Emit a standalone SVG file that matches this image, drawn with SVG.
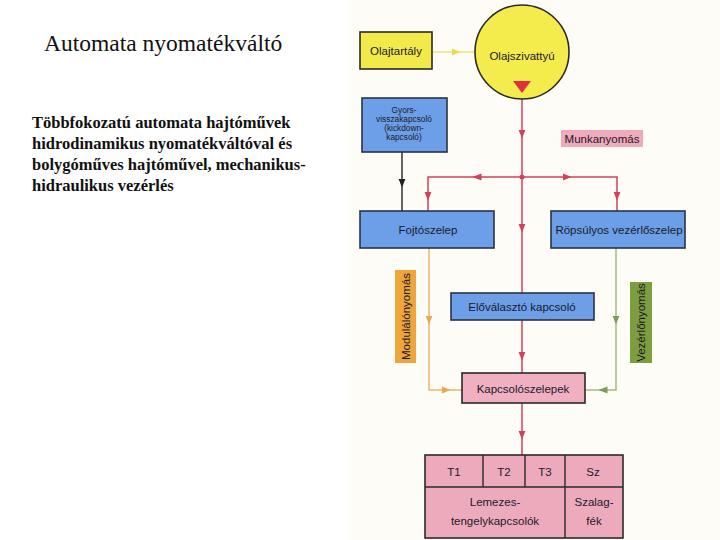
<svg xmlns="http://www.w3.org/2000/svg" width="720" height="540" viewBox="0 0 720 540">
<style>
.ser{font-family:"Liberation Serif","Times New Roman",serif;fill:#111}
.lbl{font-family:"Liberation Sans",Arial,sans-serif;font-size:11.5px;fill:#1a1a2a;text-anchor:middle;dominant-baseline:central}
.sm{font-size:8.3px}
.blue{fill:#6c9fe8;stroke:#2a3340;stroke-width:1.6}
.pink{fill:#f0b0c2;stroke:#2a2a2a;stroke-width:1.6}
.red{stroke:#d4405a;stroke-width:1.5;fill:none}
.org{stroke:#e6b86a;stroke-width:1.5;fill:none}
.grn{stroke:#a2bc7c;stroke-width:1.5;fill:none}
.blk{stroke:#333;stroke-width:1.5;fill:none}
.yel{stroke:#ece478;stroke-width:1.5;fill:none}
</style>
<defs>
<marker id="ar" viewBox="0 0 10 10" refX="5" refY="5" markerWidth="6" markerHeight="6" orient="auto"><path d="M0,1 L10,5 L0,9 z" fill="#d4405a"/></marker>
<marker id="ao" viewBox="0 0 10 10" refX="5" refY="5" markerWidth="6" markerHeight="6" orient="auto"><path d="M0,1 L10,5 L0,9 z" fill="#e6a850"/></marker>
<marker id="ag" viewBox="0 0 10 10" refX="5" refY="5" markerWidth="6" markerHeight="6" orient="auto"><path d="M0,1 L10,5 L0,9 z" fill="#7f9c5a"/></marker>
<marker id="ab" viewBox="0 0 10 10" refX="5" refY="5" markerWidth="6" markerHeight="6" orient="auto"><path d="M0,1 L10,5 L0,9 z" fill="#222"/></marker>
<marker id="ay" viewBox="0 0 10 10" refX="5" refY="5" markerWidth="6" markerHeight="6" orient="auto"><path d="M0,1 L10,5 L0,9 z" fill="#e8dc50"/></marker>
</defs>
<rect x="0" y="0" width="720" height="540" fill="#ffffff"/>
<rect x="348" y="0" width="372" height="540" fill="#fdfcf6"/>
<g id="title">
<text class="ser" x="44" y="51" font-size="23.5">Automata nyomatékváltó</text>
</g>
<g id="description" class="ser" font-size="16.5" font-weight="bold">
<text x="32" y="128">Többfokozatú automata hajtóművek</text>
<text x="32" y="149">hidrodinamikus nyomatékváltóval és</text>
<text x="32" y="170">bolygóműves hajtóművel, mechanikus-</text>
<text x="32" y="191">hidraulikus vezérlés</text>
</g>
<g id="connectors">
<path class="yel" d="M433,52 H474"/>
<path class="yel" d="M452,52 H456" marker-end="url(#ay)"/>
<path class="red" d="M522,92 V177"/>
<path class="red" d="M522,130 V134" marker-end="url(#ar)"/>
<path class="red" d="M428,211 V177 H617 V211"/>
<path class="red" d="M481,177 H477" marker-end="url(#ar)"/>
<path class="red" d="M563,177 H567" marker-end="url(#ar)"/>
<path class="red" d="M428,192 V196" marker-end="url(#ar)"/>
<path class="red" d="M617,192 V196" marker-end="url(#ar)"/>
<path class="red" d="M522,177 V293"/>
<path class="red" d="M522,224 V228" marker-end="url(#ar)"/>
<path class="red" d="M522,320 V373"/>
<path class="red" d="M522,352 V356" marker-end="url(#ar)"/>
<path class="red" d="M522,403 V455"/>
<path class="red" d="M522,431 V435" marker-end="url(#ar)"/>
<path class="blk" d="M402,152 V211"/>
<path class="blk" d="M402,179 V183" marker-end="url(#ab)"/>
<path class="org" d="M429,248 V390 H462"/>
<path class="org" d="M429,316 V320" marker-end="url(#ao)"/>
<path class="org" d="M442,390 H446" marker-end="url(#ao)"/>
<path class="grn" d="M616,248 V390 H586"/>
<path class="grn" d="M616,316 V320" marker-end="url(#ag)"/>
<path class="grn" d="M607,390 H603" marker-end="url(#ag)"/>
<circle cx="522" cy="177" r="2.5" fill="#d4405a"/>
</g>
<g id="olajtartaly">
<rect x="360" y="32" width="72" height="37" fill="#f2ea48" stroke="#2a2a2a" stroke-width="1.6"/>
<text class="lbl" x="396" y="51">Olajtartály</text>
</g>
<g id="olajszivattyu">
<circle cx="522" cy="52" r="47" fill="#f4ec4c" stroke="#2a2a2a" stroke-width="1.6"/>
<text class="lbl" x="522" y="56">Olajszivattyú</text>
<path d="M513,81 L531,81 L522,93 z" fill="#e0303e"/>
</g>
<g id="gyors">
<rect x="362" y="98" width="85" height="54" class="blue"/>
<text class="lbl sm" x="404" y="110">Gyors-</text>
<text class="lbl sm" x="404" y="119">visszakapcsoló</text>
<text class="lbl sm" x="404" y="128">(kickdown-</text>
<text class="lbl sm" x="404" y="137">kapcsoló)</text>
</g>
<g id="munkanyomas">
<rect x="561" y="130" width="82" height="17" fill="#f0aabb"/>
<text class="lbl" x="602" y="138.5" font-size="11">Munkanyomás</text>
</g>
<g id="fojtoszelep">
<rect x="360" y="211" width="134" height="37" class="blue"/>
<text class="lbl" x="428" y="230">Fojtószelep</text>
</g>
<g id="ropsulyos">
<rect x="551" y="211" width="134" height="37" class="blue"/>
<text class="lbl" x="619" y="230" font-size="11">Röpsúlyos vezérlőszelep</text>
</g>
<g id="modulalo">
<rect x="395" y="270" width="21" height="93" fill="#eea53a"/>
<text class="lbl" transform="translate(405.5,316.5) rotate(-90)" x="0" y="0" font-size="11">Modulálónyomás</text>
</g>
<g id="vezerlo">
<rect x="630" y="282" width="22" height="81" fill="#7c9e3e"/>
<text class="lbl" transform="translate(641,322.5) rotate(-90)" x="0" y="0" font-size="11">Vezérlőnyomás</text>
</g>
<g id="elovalaszto">
<rect x="451" y="293" width="143" height="27" class="blue"/>
<text class="lbl" x="522" y="307">Előválasztó kapcsoló</text>
</g>
<g id="kapcsoloszelepek">
<rect x="462" y="373" width="123" height="30" class="pink"/>
<text class="lbl" x="523" y="389">Kapcsolószelepek</text>
</g>
<g id="tengelykapcsolok">
<rect x="425" y="455" width="198" height="83" fill="#eeaabd" stroke="#2a2a2a" stroke-width="1.6"/>
<path d="M425,487 H623 M483,455 V487 M525,455 V487 M565,455 V538" stroke="#2a2a2a" stroke-width="1.4" fill="none"/>
<text class="lbl" x="454" y="472">T1</text>
<text class="lbl" x="504" y="472">T2</text>
<text class="lbl" x="545" y="472">T3</text>
<text class="lbl" x="593" y="472">Sz</text>
<text class="lbl" x="495" y="502">Lemezes-</text>
<text class="lbl" x="495" y="521">tengelykapcsolók</text>
<text class="lbl" x="594" y="502">Szalag-</text>
<text class="lbl" x="594" y="521">fék</text>
</g>
</svg>
